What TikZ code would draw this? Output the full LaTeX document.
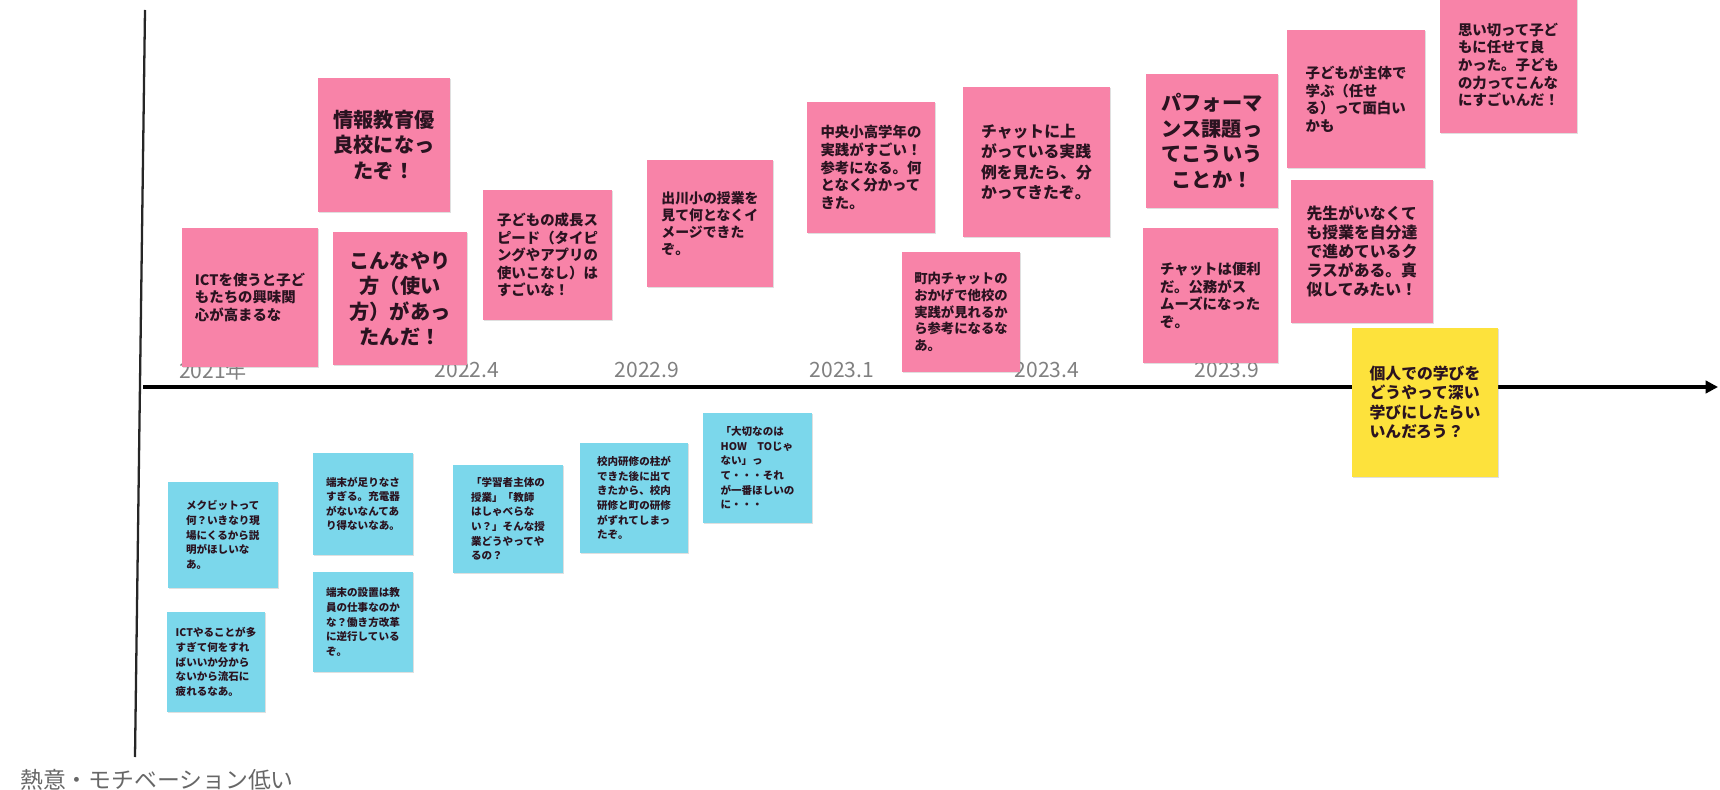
\documentclass[tikz,border=0pt]{standalone}
\usepackage{fontspec}
\setmainfont{Noto Sans CJK JP}
\usetikzlibrary{arrows.meta, shadows}
\definecolor{notepink}{HTML}{F883A8}
\definecolor{noteblue}{HTML}{7BD7EB}
\definecolor{noteyellow}{HTML}{FDE23C}
\definecolor{notetext}{HTML}{2A1320}
\definecolor{labelgray}{HTML}{808080}

\begin{document}
\begin{tikzpicture}[
    x=0.02cm, y=-0.02cm,
    note/.style={rectangle, inner sep=2pt, align=left, text=notetext, drop shadow={shadow xshift=0.5pt, shadow yshift=-0.8pt, opacity=0.25}},
    pinknote/.style={note, fill=notepink, font=\bfseries\fontsize{8.2}{10}\selectfont},
    bignote/.style={pinknote, align=center, font=\bfseries\fontsize{11.5}{14.5}\selectfont},
    bluenote/.style={note, fill=noteblue, font=\bfseries\fontsize{6}{8.3}\selectfont},
    yellownote/.style={note, fill=noteyellow, font=\bfseries\fontsize{9}{11}\selectfont},
    yearlabel/.style={text=labelgray, font=\fontsize{12}{14}\selectfont},
    axislabel/.style={text=labelgray!80!black, font=\fontsize{13}{15}\selectfont},
    axisline/.style={line width=1.3pt, draw=black!85},
    arrow/.style={line width=2.4pt, -{Triangle[length=7pt,width=7pt]}},
]
\useasboundingbox (0,0) rectangle (1720,790);

% Axes
\coordinate (ytop) at (145,10);
\coordinate (ybot) at (135,757);
\coordinate (origin) at (143,387);
\coordinate (xend) at (1718,387);
\draw [axisline] (ytop) -- (ybot);
\draw [arrow] (origin) -- (xend);
\node (high) [axislabel] at (160,-12) {熱意・モチベーション高い};
\node (low) [axislabel] at (157,780) {熱意・モチベーション低い};

% Time labels
\node (y2021) [yearlabel] at (213,370) {2021年};
\node (y2022a) [yearlabel] at (467,370) {2022.4};
\node (y2022b) [yearlabel] at (647,370) {2022.9};
\node (y2023a) [yearlabel] at (842,370) {2023.1};
\node (y2023b) [yearlabel] at (1047,370) {2023.4};
\node (y2023c) [yearlabel] at (1227,370) {2023.9};

% Upper notes
\node (ict) [pinknote, minimum width=2.72cm, minimum height=2.78cm] at (250,297.5) {ICTを使うと子ど\\もたちの興味関\\心が高まるな};
\node (award) [bignote, minimum width=2.64cm, minimum height=2.68cm] at (384,145) {情報教育優\\良校になっ\\たぞ！};
\node (usage) [bignote, minimum width=2.68cm, minimum height=2.66cm] at (400,298.5) {こんなやり\\方（使い\\方）があっ\\たんだ！};
\node (growth) [pinknote, minimum width=2.58cm, minimum height=2.6cm] at (547.5,255) {子どもの成長ス\\ピード（タイピ\\ングやアプリの\\使いこなし）は\\すごいな！};
\node (degawa) [pinknote, minimum width=2.52cm, minimum height=2.54cm, font=\bfseries\fontsize{7.9}{9.8}\selectfont] at (710,223.5) {出川小の授業を\\見て何となくイ\\メージできた\\ぞ。};
\node (chuo) [pinknote, minimum width=2.56cm, minimum height=2.62cm] at (871,167.5) {中央小高学年の\\実践がすごい！\\参考になる。何\\となく分かって\\きた。};
\node (townchat) [pinknote, minimum width=2.36cm, minimum height=2.4cm, font=\bfseries\fontsize{7.6}{9.5}\selectfont] at (961,312) {町内チャットの\\おかげで他校の\\実践が見れるか\\ら参考になるな\\あ。};
\node (examples) [pinknote, minimum width=2.94cm, minimum height=3.0cm, font=\bfseries\fontsize{9}{11.4}\selectfont] at (1036.5,162) {チャットに上\\がっている実践\\例を見たら、分\\かってきたぞ。};
\node (perform) [bignote, minimum width=2.64cm, minimum height=2.68cm] at (1212,141) {パフォーマ\\ンス課題っ\\てこういう\\ことか！};
\node (chat) [pinknote, minimum width=2.7cm, minimum height=2.7cm] at (1210.5,295.5) {チャットは便利\\だ。公務がス\\ムーズになった\\ぞ。};
\node (entrust) [pinknote, minimum width=2.76cm, minimum height=2.76cm] at (1356,99) {子どもが主体で\\学ぶ（任せ\\る）って面白い\\かも};
\node (selfrun) [pinknote, minimum width=2.84cm, minimum height=2.86cm, font=\bfseries\fontsize{9}{10.8}\selectfont] at (1362,251.5) {先生がいなくて\\も授業を自分達\\で進めているク\\ラスがある。真\\似してみたい！};
\node (power) [pinknote, minimum width=2.74cm, minimum height=2.72cm] at (1508.5,65) {思い切って子ど\\もに任せて良\\かった。子ども\\の力ってこんな\\にすごいんだ！};
\node (deep) [yellownote, minimum width=2.92cm, minimum height=2.98cm] at (1425,402.5) {個人での学びを\\どうやって深い\\学びにしたらい\\いんだろう？};

% Lower notes
\node (mexcbt) [bluenote, minimum width=2.2cm, minimum height=2.12cm] at (223,535) {メクビットって\\何？いきなり現\\場にくるから説\\明がほしいな\\あ。};
\node (devices) [bluenote, minimum width=2.0cm, minimum height=2.04cm] at (363,504) {端末が足りなさ\\すぎる。充電器\\がないなんてあ\\り得ないなあ。};
\node (tired) [bluenote, minimum width=1.96cm, minimum height=2.0cm] at (216,662) {ICTやることが多\\すぎて何をすれ\\ばいいか分から\\ないから流石に\\疲れるなあ。};
\node (setup) [bluenote, minimum width=2.0cm, minimum height=2.0cm] at (363,622) {端末の設置は教\\員の仕事なのか\\な？働き方改革\\に逆行している\\ぞ。};
\node (learner) [bluenote, minimum width=2.2cm, minimum height=2.16cm] at (508,519) {「学習者主体の\\授業」「教師\\はしゃべらな\\い？」そんな授\\業どうやってや\\るの？};
\node (training) [bluenote, minimum width=2.16cm, minimum height=2.2cm] at (634,498) {校内研修の柱が\\できた後に出て\\きたから、校内\\研修と町の研修\\がずれてしまっ\\たぞ。};
\node (howto) [bluenote, minimum width=2.18cm, minimum height=2.2cm] at (757.5,468) {「大切なのは\\HOW　TOじゃ\\ない」っ\\て・・・それ\\が一番ほしいの\\に・・・};

\end{tikzpicture}
\end{document}
